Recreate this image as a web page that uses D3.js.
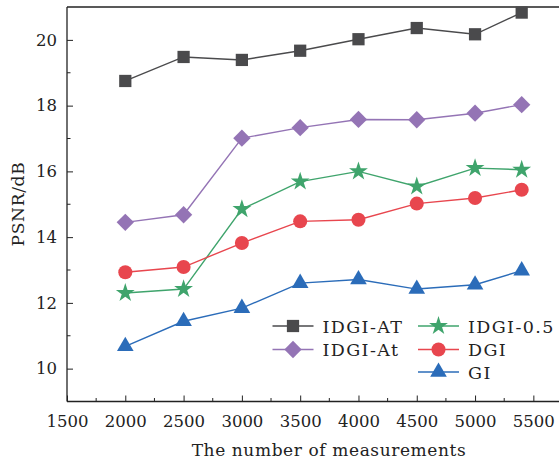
<!DOCTYPE html>
<html>
<head>
<meta charset="utf-8">
<script src="https://cdn.jsdelivr.net/npm/d3@7"></script>
<style>
  body { margin: 0; background: #fff; }
</style>
</head>
<body>
<div id="chart"></div>
<script>
// measurements on the x axis
let measurements = [2000, 2500, 3000, 3500, 4000, 4500, 5000, 5400];

let idgiAT  = [18.75, 19.48, 19.39, 19.67, 20.02, 20.36, 20.17, 20.83];
let idgiAt  = [14.45, 14.68, 17.01, 17.33, 17.58, 17.57, 17.77, 18.03];
let idgi05  = [12.30, 12.42, 14.85, 15.69, 16.00, 15.54, 16.10, 16.05];
let dgi     = [12.93, 13.09, 13.82, 14.48, 14.53, 15.02, 15.19, 15.44];
let gi      = [10.68, 11.44, 11.84, 12.60, 12.71, 12.42, 12.55, 12.98];

let seriesNames = ["IDGI-AT", "IDGI-At", "IDGI-0.5", "DGI", "GI"];
let xTicks = [1500, 2000, 2500, 3000, 3500, 4000, 4500, 5000, 5500];
let yTicks = [10, 12, 14, 16, 18, 20];

// square turned 45 degrees
let symbolRhomb = {
  draw: function(context, size) {
    let r = Math.sqrt(size / 2);
    context.moveTo(0, -r);
    context.lineTo(r, 0);
    context.lineTo(0, r);
    context.lineTo(-r, 0);
    context.closePath();
  }
};

let series = [
  {name: seriesNames[0], values: idgiAT, color: "#4a4a4c", symbol: d3.symbolSquare, size: 150},
  {name: seriesNames[1], values: idgiAt, color: "#9474b5", symbol: symbolRhomb, size: 150},
  {name: seriesNames[2], values: idgi05, color: "#3fa46c", symbol: d3.symbolStar, size: 110},
  {name: seriesNames[3], values: dgi,    color: "#e8464e", symbol: d3.symbolCircle, size: 155},
  {name: seriesNames[4], values: gi,     color: "#2b6cb9", symbol: d3.symbolTriangle, size: 120}
];

let width = 559, height = 461;
let plotLeft = 67, plotTop = 7, plotBottom = 401.5;
let serif = "DejaVu Serif";

let svg = d3.select("#chart").append("svg")
  .attr("width", width)
  .attr("height", height);

let x = d3.scaleLinear().domain([1500, 5720]).range([plotLeft, 559]);
let y = d3.scaleLinear().domain([9, 21]).range([plotBottom, plotTop]);

// frame top line (right side is off the picture)
svg.append("line").attr("x1", plotLeft).attr("x2", width).attr("y1", plotTop).attr("y2", plotTop)
   .style("stroke", "#222").style("stroke-width", 1.3);

// x axis with inward ticks
let xAxis = d3.axisBottom(x).tickValues(xTicks).tickSize(-6).tickPadding(14)
  .tickFormat(d3.format("d"));
let gx = svg.append("g").attr("transform", "translate(0," + plotBottom + ")").call(xAxis);
gx.select(".domain").attr("d", "M" + plotLeft + ",0H" + width);

let xMinor = d3.range(1750, 5720, 500);
gx.selectAll(".minor").data(xMinor).enter().append("line")
  .attr("class", "minor")
  .attr("x1", d => x(d)).attr("x2", d => x(d))
  .attr("y1", 0).attr("y2", -3.5)
  .style("stroke", "#222");

let yAxis = d3.axisLeft(y).tickValues(yTicks).tickSize(-6).tickPadding(10);
let gy = svg.append("g").attr("transform", "translate(" + plotLeft + ",0)").call(yAxis);
gy.select(".domain").attr("d", "M0," + plotTop + "V" + plotBottom);

let yMinor = [9, 11, 13, 15, 17, 19];
gy.selectAll(".minor").data(yMinor).enter().append("line")
  .attr("class", "minor")
  .attr("x1", 0).attr("x2", 3.5)
  .attr("y1", d => y(d)).attr("y2", d => y(d))
  .style("stroke", "#222");

svg.selectAll(".domain").style("stroke", "#222").style("stroke-width", 1.3);
svg.selectAll(".tick line").style("stroke", "#222");
svg.selectAll(".tick text").style("font-size", "16.5px");

// axis titles
svg.append("text")
  .attr("x", 329).attr("y", 456)
  .attr("text-anchor", "middle")
  .style("font-size", "17px")
  .style("letter-spacing", "0.6px")
  .text("The number of measurements");

svg.append("text")
  .attr("transform", "translate(24,204) rotate(-90)")
  .attr("text-anchor", "middle")
  .style("font-size", "17px")
  .style("letter-spacing", "0.7px")
  .text("PSNR/dB");

// lines and markers
let line = d3.line()
  .x((d, i) => x(measurements[i]))
  .y(d => y(d));

series.forEach(function(s) {
  svg.append("path")
    .attr("d", line(s.values))
    .style("fill", "none")
    .style("stroke", s.color)
    .style("stroke-width", 1.4);

  svg.selectAll(null)
    .data(s.values)
    .enter()
    .append("path")
    .attr("transform", (d, i) => "translate(" + x(measurements[i]) + "," + y(d) + ")")
    .attr("d", d3.symbol().type(s.symbol).size(s.size))
    .style("fill", s.color);
});

// legend
let legendPos = [
  {lx: 272.5, ly: 326},
  {lx: 272.5, ly: 349.5},
  {lx: 418, ly: 326},
  {lx: 418, ly: 349.5},
  {lx: 418, ly: 372}
];

series.forEach(function(s, i) {
  let p = legendPos[i];
  let g = svg.append("g").attr("transform", "translate(" + p.lx + "," + p.ly + ")");
  g.append("line").attr("x1", 0).attr("x2", 41).attr("y1", 0).attr("y2", 0)
    .style("stroke", s.color).style("stroke-width", 1.4);
  g.append("path")
    .attr("transform", "translate(20.5,0)")
    .attr("d", d3.symbol().type(s.symbol).size(s.size))
    .style("fill", s.color);
  g.append("text")
    .attr("x", 50).attr("y", 6.5)
    .style("font-size", "17.5px")
    .style("letter-spacing", "1.4px")
    .text(s.name);
});

svg.selectAll("text")
  .attr("font-family", serif)
  .style("font-family", serif)
  .style("fill", "#222");
</script>
</body>
</html>
